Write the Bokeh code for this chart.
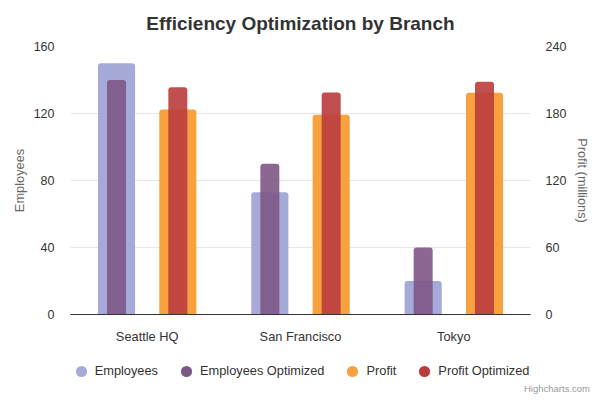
from bokeh.plotting import figure
from bokeh.layouts import column
from bokeh.models import (ColumnDataSource, Range1d, FactorRange, LinearAxis, FixedTicker,
                          Legend, LegendItem, Title)
from bokeh.transform import dodge
from bokeh.embed import file_html
from bokeh.resources import INLINE

categories = ["Seattle HQ", "San Francisco", "Tokyo"]
employees = [150, 73, 20]
employees_opt = [140, 90, 40]
profit = [183.6, 178.8, 198.5]
profit_opt = [203.6, 198.8, 208.5]
left_ticks = [0, 40, 80, 120, 160]
right_ticks = [0, 60, 120, 180, 240]
series_names = ["Employees", "Employees Optimized", "Profit", "Profit Optimized"]
series_colors = ["#a5aad9", "#7e5686", "#f8a13f", "#ba3c3d"]

src = ColumnDataSource(dict(cat=categories, emp=employees, emp_opt=employees_opt,
                            prof=profit, prof_opt=profit_opt))

FONT = "Liberation Sans"

p = figure(width=600, height=348, x_range=FactorRange(*categories),
           y_range=Range1d(0, 160),
           output_backend="svg", toolbar_location=None,
           min_border_left=70, min_border_right=70, min_border_top=46, min_border_bottom=34)
p.extra_y_ranges = {"profit": Range1d(0, 240)}
p.outline_line_color = None
p.background_fill_color = "white"

p.title.text = "Efficiency Optimization by Branch"
p.title.align = "center"
p.title.vertical_align = "top"
p.title.text_font = FONT
p.title.text_font_size = "19px"
p.title.text_color = "#333333"
p.title.text_font_style = "bold"
p.title.standoff = 22

wide = 0.242
narrow = 0.124
p.vbar(x=dodge("cat", -0.2, range=p.x_range), top="emp", width=wide, source=src,
       fill_color=series_colors[0], line_color=None, border_radius=(3, 3, 0, 0))
p.vbar(x=dodge("cat", -0.2, range=p.x_range), top="emp_opt", width=narrow, source=src,
       fill_color=series_colors[1], fill_alpha=0.9, line_color=None, border_radius=(3, 3, 0, 0))
p.vbar(x=dodge("cat", 0.2, range=p.x_range), top="prof", width=wide, source=src,
       y_range_name="profit", fill_color=series_colors[2], line_color=None,
       border_radius=(3, 3, 0, 0))
p.vbar(x=dodge("cat", 0.2, range=p.x_range), top="prof_opt", width=narrow, source=src,
       y_range_name="profit", fill_color=series_colors[3], fill_alpha=0.9, line_color=None,
       border_radius=(3, 3, 0, 0))

# axes
yl = p.yaxis[0]
yl.ticker = FixedTicker(ticks=left_ticks)
yl.axis_label = "Employees"
yr = LinearAxis(y_range_name="profit", ticker=FixedTicker(ticks=right_ticks),
                axis_label="Profit (millions)")
p.add_layout(yr, "right")
for ax in (yl, yr):
    ax.axis_line_color = None
    ax.major_tick_line_color = None
    ax.minor_tick_line_color = None
    ax.major_tick_out = 0
    ax.minor_tick_out = 0
    ax.major_label_text_font = FONT
    ax.major_label_text_font_size = "12.5px"
    ax.major_label_text_color = "#333333"
    ax.axis_label_text_font = FONT
    ax.axis_label_text_font_size = "12.8px"
    ax.axis_label_text_color = "#666666"
    ax.axis_label_text_font_style = "normal"
yl.axis_label_standoff = 4
yr.axis_label_standoff = 6
yl.major_label_standoff = 16
yr.major_label_standoff = 15

xa = p.xaxis[0]
xa.axis_line_color = "#333333"
xa.major_tick_line_color = None
xa.minor_tick_line_color = None
xa.major_tick_out = 0
xa.minor_tick_out = 0
xa.major_label_text_font = FONT
xa.major_label_text_font_size = "12.8px"
xa.major_label_text_color = "#333333"
xa.major_label_standoff = 14

p.xgrid.grid_line_color = None
p.ygrid.ticker = FixedTicker(ticks=left_ticks)
p.ygrid.grid_line_color = "#e6e6e6"

# legend strip below the chart (its frame is aligned with the chart frame)
lg = figure(width=600, height=52, x_range=Range1d(0, 1), y_range=Range1d(0, 1),
            output_backend="svg", toolbar_location=None,
            x_axis_location=None, y_axis_location=None,
            min_border_left=70, min_border_right=70, min_border_top=0, min_border_bottom=18)
lg.outline_line_color = None
lg.xgrid.grid_line_color = None
lg.ygrid.grid_line_color = None

items = []
for c, n in zip(series_colors, series_names):
    d = lg.scatter(x=[0], y=[float("nan")], marker="circle", size=12,
                   fill_color=c, line_color=None)
    items.append(LegendItem(label=n, renderers=[d]))
legend = Legend(items=items, orientation="horizontal", location=(-3.3, -2.7),
                label_text_font=FONT, label_text_font_size="12.8px", label_text_color="#333333",
                glyph_width=28, glyph_height=28, label_height=28, label_standoff=0, spacing=14,
                border_line_color=None, background_fill_alpha=0, margin=0, padding=0)
lg.add_layout(legend, "center")

credit = Title(text="Highcharts.com", align="right", offset=-59.5, vertical_align="top",
               text_font=FONT, text_font_size="9.5px", text_color="#999999",
               text_font_style="normal", standoff=0)
lg.add_layout(credit, "below")

layout = column(p, lg, spacing=0)
open("out.html", "w").write(file_html(layout, INLINE))
